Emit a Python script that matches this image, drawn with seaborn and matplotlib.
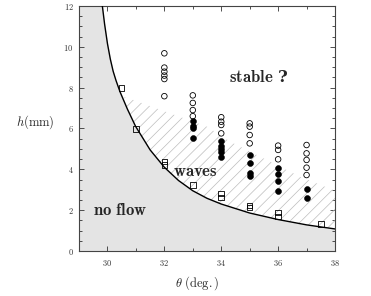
import numpy as np
import pandas as pd
import matplotlib
matplotlib.use("Agg")
import matplotlib.pyplot as plt
import seaborn as sns
from matplotlib.ticker import MultipleLocator, FuncFormatter

# ==========================================
# DATA
# ==========================================
# h_stop curve (limit of flow)
curve_theta = [29.82, 29.9, 30.0, 30.1, 30.2, 30.3, 30.44, 30.7, 30.99, 31.5, 32.0,
               32.5, 33.0, 33.5, 34.0, 35.0, 36.0, 37.0, 38.0]
curve_h = [12.0, 11.1, 10.15, 9.4, 8.8, 8.35, 7.8, 6.95, 6.1, 4.95, 4.1,
           3.45, 2.95, 2.58, 2.3, 1.86, 1.54, 1.28, 1.08]

# upper limit of the wavy (hatched) zone
wave_top_theta = [30.6, 33.5, 34.32, 36.77, 38.0]
wave_top_h = [7.55, 6.09, 5.35, 3.64, 2.95]

# onset of flow (open squares)
sq_theta = [30.5, 31.0, 32.0, 32.0, 33.0, 34.0, 34.0, 35.0, 35.0, 36.0, 36.0, 37.5]
sq_h = [7.97, 5.98, 4.38, 4.21, 3.22, 2.82, 2.63, 2.22, 2.14, 1.89, 1.68, 1.31]

# stable flow (open circles)
open_theta = [32] * 6 + [33] * 4 + [34] * 4 + [35] * 4 + [36] * 3 + [37] * 5
open_h = [9.68, 8.98, 8.78, 8.59, 8.42, 7.58,
          7.62, 7.25, 6.9, 6.6,
          6.55, 6.33, 6.17, 5.76,
          6.25, 6.09, 5.68, 5.27,
          5.16, 4.95, 4.49,
          5.19, 4.78, 4.46, 4.08, 3.72]

# waves (filled circles)
filled_theta = [33] * 4 + [34] * 5 + [35] * 4 + [36] * 4 + [37] * 2
filled_h = [6.35, 6.1, 6.0, 5.52,
            5.4, 5.16, 5.0, 4.87, 4.62,
            4.70, 4.33, 3.8, 3.67,
            4.05, 3.77, 3.43, 2.96,
            3.04, 2.58]

df_curve = pd.DataFrame({"theta": curve_theta, "h": curve_h})
df_sq = pd.DataFrame({"theta": sq_theta, "h": sq_h})
df_open = pd.DataFrame({"theta": open_theta, "h": open_h})
df_filled = pd.DataFrame({"theta": filled_theta, "h": filled_h})

# ==========================================
# STYLE
# ==========================================
sns.set_theme(style="ticks")
plt.rcParams["font.family"] = ["DejaVu Serif"]
plt.rcParams["mathtext.fontset"] = "cm"
plt.rcParams["hatch.linewidth"] = 0.5

fig = plt.figure(figsize=(3.71, 2.96), dpi=100)
ax = fig.add_axes([0.213, 0.152, 0.690, 0.828])

# --- no-flow zone (grey) ---
ax.fill_between([29.0] + curve_theta, 0, [12.0] + curve_h, color="#e4e4e4", lw=0, zorder=0)

# --- hatched waves zone ---
c_t = np.array(curve_theta)
c_h = np.array(curve_h)
mask = c_t >= 30.6
poly_t = list(wave_top_theta) + list(c_t[mask][::-1]) + [30.6]
poly_h = list(wave_top_h) + list(c_h[mask][::-1]) + [float(np.interp(30.6, c_t, c_h))]
ax.fill(poly_t, poly_h, facecolor="none", edgecolor="#bdbdbd", hatch="///", lw=0, zorder=1)

# --- curve ---
sns.lineplot(data=df_curve, x="theta", y="h", color="black", lw=1.0, ax=ax, zorder=3, sort=False)

# --- markers ---
sns.scatterplot(data=df_sq, x="theta", y="h", marker="s", s=16, facecolor="none",
                edgecolor="black", linewidth=0.6, ax=ax, zorder=4)
sns.scatterplot(data=df_open, x="theta", y="h", marker="o", s=16, facecolor="none",
                edgecolor="black", linewidth=0.6, ax=ax, zorder=4)
sns.scatterplot(data=df_filled, x="theta", y="h", marker="o", s=18, color="black",
                edgecolor="black", linewidth=0.4, ax=ax, zorder=4)

# --- region labels ---
ax.text(35.32, 8.5, r"$\mathbf{stable}$ ?", fontsize=12, fontweight="bold",
        ha="center", va="center")
ax.text(33.1, 3.9, r"$\mathbf{waves}$", fontsize=12, ha="center", va="center")
ax.text(30.45, 2.0, r"$\mathbf{no\ flow}$", fontsize=12, ha="center", va="center")

# --- axes ---
ax.set_xlim(29, 38)
ax.set_ylim(0, 12)
ax.xaxis.set_major_locator(MultipleLocator(2))
ax.xaxis.set_minor_locator(MultipleLocator(1))
ax.yaxis.set_major_locator(MultipleLocator(2))
ax.yaxis.set_minor_locator(MultipleLocator(0.5))
fmt = FuncFormatter(lambda v, p: r"$%d$" % v)
ax.xaxis.set_major_formatter(fmt)
ax.yaxis.set_major_formatter(fmt)
ax.tick_params(which="both", direction="in", top=True, right=True, labelsize=6,
               colors="#333333", width=0.6)
ax.tick_params(which="major", length=3.5, pad=5)
ax.tick_params(which="minor", length=2)
ax.tick_params(axis="y", which="major", pad=4)
for sp in ax.spines.values():
    sp.set_linewidth(0.8)
    sp.set_color("#444444")

ax.set_xlabel(r"$\theta\ \mathrm{(deg.)}$", fontsize=9)
ax.set_ylabel(r"$h\mathrm{(mm)}$", fontsize=9, rotation=0)
ax.yaxis.set_label_coords(-0.17, 0.49)
ax.xaxis.set_label_coords(0.46, -0.095)

fig.savefig("out.png", dpi=100)
